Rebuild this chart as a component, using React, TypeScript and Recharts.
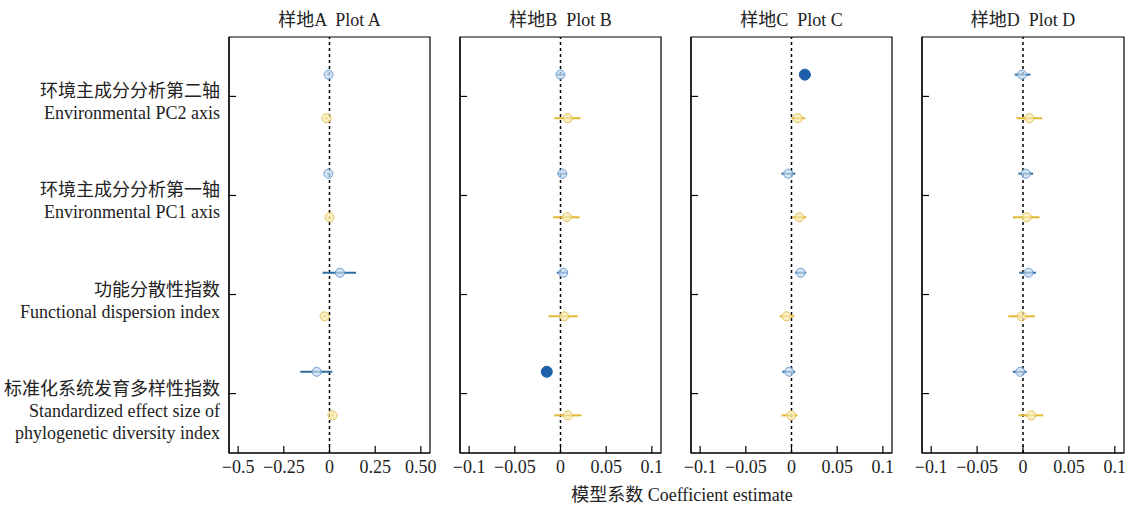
import React from 'react'
import {
  ScatterChart,
  Scatter,
  XAxis,
  YAxis,
  ErrorBar,
  ReferenceLine,
  ReferenceArea,
} from 'recharts'

const FONT = '"Liberation Serif", "Times New Roman", "Noto Sans CJK SC", serif'
const TEXT = '#222'

// rows, top to bottom
const rowIds = [1, 2, 3, 4]
const rowLabels = [
  ['环境主成分分析第二轴', 'Environmental PC2 axis'],
  ['环境主成分分析第一轴', 'Environmental PC1 axis'],
  ['功能分散性指数', 'Functional dispersion index'],
  ['标准化系统发育多样性指数', 'Standardized effect size of', 'phylogenetic diversity index'],
]

const plotTitles = ['样地A  Plot A', '样地B  Plot B', '样地C  Plot C', '样地D  Plot D']

const ticksWide = [-0.5, -0.25, 0, 0.25, 0.5]
const tickLabelsWide = ['−0.5', '−0.25', '0', '0.25', '0.50']
const ticksNarrow = [-0.1, -0.05, 0, 0.05, 0.1]
const tickLabelsNarrow = ['−0.1', '−0.05', '0', '0.05', '0.1']

// [estimate, lower, upper]
const plotABlue = [[-0.005, -0.012, 0.003], [-0.006, -0.012, 0.002], [0.057, -0.038, 0.145], [-0.07, -0.16, 0.015]]
const plotAYellow = [[-0.016, -0.024, -0.008], [0.0, -0.008, 0.008], [-0.027, -0.036, -0.018], [0.016, 0.008, 0.025]]
const plotBBlue = [[0.0, -0.004, 0.004], [0.002, -0.003, 0.007], [0.003, -0.004, 0.008], [-0.015, -0.02, -0.01]]
const plotBYellow = [[0.008, -0.007, 0.022], [0.007, -0.008, 0.021], [0.004, -0.013, 0.019], [0.008, -0.007, 0.023]]
const plotCBlue = [[0.0146, 0.009, 0.021], [-0.0036, -0.011, 0.004], [0.01, 0.004, 0.016], [-0.0025, -0.01, 0.004]]
const plotCYellow = [[0.007, 0.0, 0.015], [0.0085, 0.001, 0.016], [-0.0055, -0.013, 0.003], [-0.0003, -0.011, 0.0066]]
const plotDBlue = [[-0.001, -0.009, 0.008], [0.003, -0.005, 0.011], [0.006, -0.004, 0.014], [-0.003, -0.011, 0.004]]
const plotDYellow = [[0.007, -0.007, 0.021], [0.004, -0.011, 0.018], [-0.0015, -0.016, 0.013], [0.009, -0.005, 0.022]]

// filled markers = significant
const plotABlueSig = [false, false, false, false]
const plotBBlueSig = [false, false, false, true]
const plotCBlueSig = [true, false, false, false]
const plotDBlueSig = [false, false, false, false]
const noSig = [false, false, false, false]

const BLUE_OFFSET = -0.22
const YELLOW_OFFSET = 0.22
const Y_DOMAIN: [number, number] = [0.4, 4.6]

const COLORS = {
  blue: { line: '#2d6c9f', edge: '#6f9fd4', fill: '#c5daf0', solid: '#1c5ea8' },
  yellow: { line: '#e3b934', edge: '#e6c257', fill: '#f8e9b0', solid: '#d9a820' },
}

type Est = number[]

function toPoints(vals: Est[], sigs: boolean[], offset: number) {
  return vals.map(([est, lo, hi], i) => ({
    x: est,
    y: rowIds[i] + offset,
    err: [est - lo, hi - est],
    sig: sigs[i],
  }))
}

function makeMarker(c: typeof COLORS.blue) {
  return (props: any) => {
    const { cx, cy, payload } = props
    if (cx == null || cy == null) return <g />
    if (payload.sig) {
      return <circle cx={cx} cy={cy} r={5.5} fill={c.solid} stroke={c.solid} strokeWidth={1} />
    }
    return (
      <circle cx={cx} cy={cy} r={4.5} fill={c.fill} fillOpacity={0.7} stroke={c.edge} strokeWidth={1} />
    )
  }
}

const BlueMarker = makeMarker(COLORS.blue)
const YellowMarker = makeMarker(COLORS.yellow)

function CategoryTick(props: any) {
  const { x, y, payload, show } = props
  if (!show) return <g />
  const lines = rowLabels[payload.value - 1] ?? []
  return (
    <text x={x} y={y} textAnchor="end" fontSize={18} fill={TEXT} fontFamily={FONT}>
      {lines.map((l, i) => (
        <tspan key={i} x={x} dy={i === 0 ? 1 : 22}>
          {l}
        </tspan>
      ))}
    </text>
  )
}

interface PanelProps {
  left: number
  width: number
  yWidth: number
  rightMargin: number
  title: string
  domain: [number, number]
  ticks: number[]
  tickLabels: string[]
  blue: Est[]
  yellow: Est[]
  blueSig: boolean[]
  yellowSig: boolean[]
  showLabels: boolean
}

function Panel(p: PanelProps) {
  const blueData = toPoints(p.blue, p.blueSig, BLUE_OFFSET)
  const yellowData = toPoints(p.yellow, p.yellowSig, YELLOW_OFFSET)
  const plotWidth = p.width - p.yWidth - p.rightMargin
  return (
    <div style={{ position: 'absolute', left: p.left, top: 0, width: p.width, height: 508 }}>
      <div
        style={{
          position: 'absolute',
          left: p.yWidth,
          top: 9,
          width: plotWidth,
          textAlign: 'center',
          fontSize: 18,
          lineHeight: '22px',
          color: TEXT,
          whiteSpace: 'pre',
        }}
      >
        {p.title}
      </div>
      <ScatterChart
        width={p.width}
        height={508}
        margin={{ top: 37, right: p.rightMargin, bottom: 15, left: 0 }}
        style={{ overflow: 'visible' }}
      >
        <XAxis
          type="number"
          dataKey="x"
          domain={p.domain}
          allowDataOverflow
          ticks={p.ticks}
          interval={0}
          tickFormatter={(v: number) => p.tickLabels[p.ticks.indexOf(v)] ?? String(v)}
          tickSize={-7}
          tickMargin={14}
          height={40}
          axisLine={{ stroke: '#000', strokeWidth: 1.2 }}
          tickLine={{ stroke: '#000', strokeWidth: 1.2 }}
          tick={{ fontSize: 18, fill: TEXT, fontFamily: FONT }}
        />
        <YAxis
          type="number"
          dataKey="y"
          domain={Y_DOMAIN}
          allowDataOverflow
          reversed
          ticks={rowIds}
          interval={0}
          width={p.yWidth}
          tickSize={-7}
          tickMargin={16}
          axisLine={{ stroke: '#000', strokeWidth: 1.2 }}
          tickLine={{ stroke: '#000', strokeWidth: 1.2 }}
          tick={(tp: any) => <CategoryTick {...tp} show={p.showLabels} />}
        />
        <ReferenceArea
          x1={p.domain[0]}
          x2={p.domain[1]}
          y1={Y_DOMAIN[0]}
          y2={Y_DOMAIN[1]}
          fill="none"
          stroke="#000"
          strokeWidth={1.2}
          ifOverflow="visible"
        />
        <ReferenceLine x={0} stroke="#000" strokeWidth={1.5} strokeDasharray="3 3" />
        <Scatter data={blueData} shape={BlueMarker} isAnimationActive={false}>
          <ErrorBar dataKey="err" direction="x" width={0} stroke={COLORS.blue.line} strokeWidth={2} />
        </Scatter>
        <Scatter data={yellowData} shape={YellowMarker} isAnimationActive={false}>
          <ErrorBar dataKey="err" direction="x" width={0} stroke={COLORS.yellow.line} strokeWidth={2} />
        </Scatter>
      </ScatterChart>
    </div>
  )
}

export default function App() {
  return (
    <div
      style={{
        position: 'absolute',
        left: 0,
        top: 0,
        width: 1132,
        height: 508,
        overflow: 'hidden',
        background: '#fff',
        fontFamily: FONT,
      }}
    >
      <Panel left={0} width={440} yWidth={229} rightMargin={10} title={plotTitles[0]}
        domain={[-0.55, 0.55]} ticks={ticksWide} tickLabels={tickLabelsWide}
        blue={plotABlue} yellow={plotAYellow} blueSig={plotABlueSig} yellowSig={noSig} showLabels />
      <Panel left={450} width={221} yWidth={10} rightMargin={10} title={plotTitles[1]}
        domain={[-0.11, 0.11]} ticks={ticksNarrow} tickLabels={tickLabelsNarrow}
        blue={plotBBlue} yellow={plotBYellow} blueSig={plotBBlueSig} yellowSig={noSig} showLabels={false} />
      <Panel left={681} width={221} yWidth={10} rightMargin={10} title={plotTitles[2]}
        domain={[-0.11, 0.11]} ticks={ticksNarrow} tickLabels={tickLabelsNarrow}
        blue={plotCBlue} yellow={plotCYellow} blueSig={plotCBlueSig} yellowSig={noSig} showLabels={false} />
      <Panel left={912} width={220} yWidth={10} rightMargin={8} title={plotTitles[3]}
        domain={[-0.11, 0.11]} ticks={ticksNarrow} tickLabels={tickLabelsNarrow}
        blue={plotDBlue} yellow={plotDYellow} blueSig={plotDBlueSig} yellowSig={noSig} showLabels={false} />
      <div
        style={{
          position: 'absolute',
          left: 482,
          top: 484,
          width: 400,
          textAlign: 'center',
          fontSize: 18,
          lineHeight: '22px',
          color: TEXT,
        }}
      >
        模型系数 Coefficient estimate
      </div>
    </div>
  )
}
